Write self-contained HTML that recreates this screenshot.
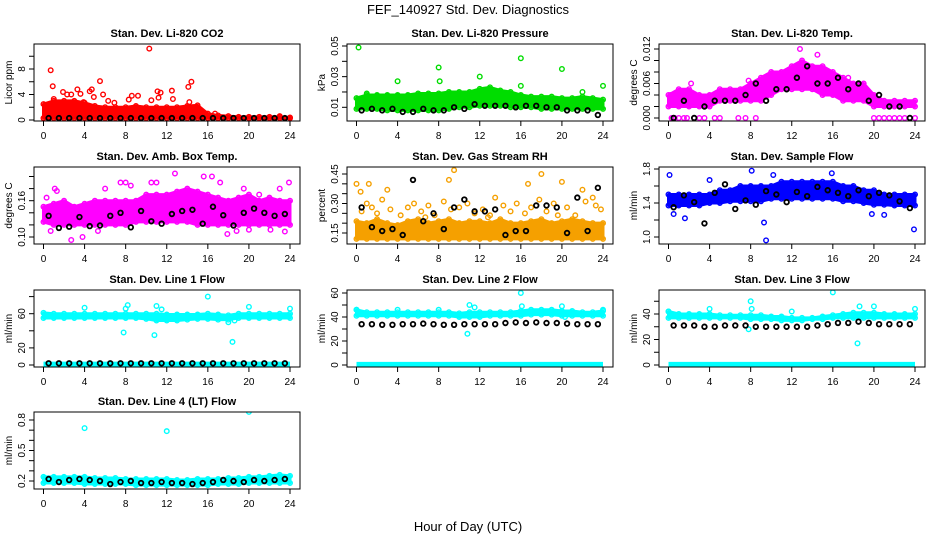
<!DOCTYPE html>
<html><head><meta charset="utf-8"><style>
html,body{margin:0;padding:0;background:#fff;}
svg{display:block;font-family:"Liberation Sans",sans-serif;}
</style></head><body>
<svg id="chart" width="936" height="540" viewBox="0 0 936 540">
<rect width="936" height="540" fill="#fff"/>
<text x="468" y="14" font-size="13" text-anchor="middle">FEF_140927  Std. Dev. Diagnostics</text>
<text x="468" y="531" font-size="13" text-anchor="middle">Hour of Day (UTC)</text>
</svg>
<script>
const hours = [0,1,2,3,4,5,6,7,8,9,10,11,12,13,14,15,16,17,18,19,20,21,22,23,24];
const blackHours = [0.5,1.5,2.5,3.5,4.5,5.5,6.5,7.5,8.5,9.5,10.5,11.5,12.5,13.5,14.5,15.5,16.5,17.5,18.5,19.5,20.5,21.5,22.5,23.5];
const xTicks = [0,4,8,12,16,20,24];

// P1 CO2
const co2Hi = [2.5,3,3,3,2.7,2.2,2,2,2,2.2,2,2,2,2,2.2,2.3,1,0.7,0.6,0.5,0.5,0.5,0.5,0.5,0.4];
const co2Lo = [0.3,0.3,0.3,0.3,0.3,0.3,0.3,0.3,0.3,0.3,0.3,0.3,0.3,0.3,0.3,0.3,0.3,0.3,0.3,0.3,0.3,0.3,0.3,0.3,0.3];
const co2OutX = [0.7,0.9,1,1.9,2.3,2.7,3.3,3.6,3.9,4.5,4.7,4.9,5.5,5.8,6.3,6.9,8.3,8.6,9.2,10.3,10.5,11.1,11.2,11.4,12.5,12.6,14.1,14.4,14.2,16.7,23];
const co2OutY = [7.8,5.3,3.3,4.4,4,4,4.8,4.1,2.8,4.5,4.8,3.6,6.1,4,3,2.7,3.2,3.8,3.8,11.2,3.1,4.5,3.5,4.3,4.6,3.3,5.2,6,2.8,1,0.6];
const co2Black = [0.3,0.3,0.3,0.3,0.3,0.3,0.3,0.3,0.3,0.3,0.3,0.3,0.3,0.3,0.3,0.3,0.3,0.3,0.3,0.3,0.3,0.3,0.3,0.3];

// P2 Pressure
const presHi = [0.016,0.018,0.018,0.018,0.018,0.018,0.019,0.019,0.019,0.02,0.02,0.02,0.022,0.023,0.021,0.02,0.018,0.017,0.017,0.017,0.016,0.016,0.017,0.016,0.015];
const presLo = [0.009,0.009,0.009,0.008,0.008,0.008,0.008,0.008,0.008,0.009,0.01,0.01,0.011,0.011,0.011,0.01,0.01,0.01,0.009,0.009,0.009,0.009,0.009,0.009,0.009];
const presOutX = [0.2,1,4,8,8.1,12,16,16,20,22,24];
const presOutY = [0.049,0.019,0.027,0.036,0.027,0.030,0.042,0.024,0.035,0.020,0.024];
const presBlack = [0.008,0.009,0.008,0.009,0.007,0.007,0.009,0.008,0.008,0.01,0.009,0.012,0.011,0.011,0.011,0.01,0.011,0.011,0.01,0.01,0.008,0.008,0.008,0.005];

// P3 Li-820 Temp
const tempHi = [0.004,0.005,0.005,0.004,0.004,0.005,0.005,0.005,0.006,0.007,0.008,0.008,0.009,0.010,0.009,0.009,0.008,0.007,0.006,0.006,0.004,0.003,0.003,0.003,0.003];
const tempLo = [0.002,0.002,0.002,0.002,0.002,0.003,0.003,0.003,0.003,0.003,0.004,0.005,0.005,0.005,0.005,0.004,0.004,0.003,0.003,0.003,0.002,0.002,0.002,0.002,0.002];
const tempOutX = [0.2,2.2,7.8,12.8,14.5,17.5,0.3,0.6,1,1.5,1.8,2.5,3,3.5,4.5,5,6.8,7.5,8.5,20,20.5,21,21.5,22,22.5,23,23.5,24];
const tempOutY = [0.004,0.006,0.0065,0.012,0.011,0.007,0,0,0,0,0,0,0,0,0,0,0,0,0,0,0,0,0,0,0,0,0,0];
const tempBlack = [0,0.003,0,0.002,0.003,0.003,0.003,0.004,0.006,0.003,0.005,0.005,0.007,0.009,0.006,0.006,0.007,0.005,0.006,0.003,0.004,0.002,0.002,0];

// P4 Amb box temp
const ambHi = [0.15,0.155,0.16,0.15,0.155,0.16,0.16,0.16,0.16,0.16,0.17,0.17,0.17,0.175,0.18,0.175,0.17,0.165,0.16,0.165,0.17,0.16,0.165,0.16,0.16];
const ambLo = [0.125,0.12,0.12,0.12,0.12,0.12,0.12,0.12,0.12,0.125,0.125,0.125,0.125,0.125,0.125,0.12,0.12,0.12,0.12,0.12,0.12,0.12,0.12,0.12,0.12];
const ambOutX = [0.3,1.1,1.3,2.7,6,7.5,8,8.5,10.5,11,12.8,15.6,16.4,17.2,19.5,21,23,23.9,0.7,3.8,5.3,17.9,18.8,20,22.1,23.5];
const ambOutY = [0.165,0.18,0.176,0.095,0.18,0.19,0.19,0.185,0.19,0.19,0.205,0.2,0.2,0.19,0.18,0.17,0.18,0.19,0.11,0.1,0.11,0.105,0.11,0.112,0.112,0.109];
const ambBlack = [0.135,0.115,0.117,0.133,0.118,0.119,0.135,0.14,0.116,0.143,0.126,0.122,0.138,0.143,0.145,0.122,0.15,0.136,0.119,0.14,0.147,0.14,0.135,0.138];

// P5 Gas stream RH
const rhHi = [0.21,0.2,0.22,0.2,0.19,0.21,0.22,0.2,0.21,0.22,0.2,0.21,0.21,0.2,0.22,0.2,0.2,0.21,0.22,0.2,0.21,0.22,0.21,0.2,0.2];
const rhLo = [0.12,0.12,0.12,0.12,0.12,0.12,0.12,0.12,0.12,0.12,0.12,0.12,0.12,0.12,0.12,0.12,0.12,0.12,0.12,0.12,0.12,0.12,0.12,0.12,0.12];
const rhOutX = [0,0.4,1.2,3,9,9.5,16.7,18,20,22,23,0.5,1,1.5,2,2.5,3.3,4.3,5,5.6,6.3,7,7.6,8.5,9.2,10,10.8,11.5,12.3,13,13.5,14.3,15,15.6,16.4,17,17.8,18.5,19.2,20.5,21.3,22.3,23.3,23.8,6.7,12.8,19.6];
const rhOutY = [0.40,0.36,0.4,0.37,0.42,0.47,0.40,0.45,0.41,0.37,0.33,0.26,0.3,0.28,0.25,0.32,0.27,0.24,0.28,0.3,0.26,0.29,0.24,0.31,0.27,0.28,0.3,0.25,0.27,0.24,0.33,0.29,0.26,0.3,0.25,0.28,0.32,0.26,0.3,0.28,0.24,0.31,0.29,0.27,0.23,0.23,0.24];
const rhBlack = [0.28,0.18,0.16,0.17,0.14,0.42,0.21,0.25,0.17,0.28,0.32,0.26,0.26,0.27,0.14,0.16,0.16,0.29,0.29,0.28,0.15,0.33,0.16,0.38];

// P6 Sample flow
const flowHi = [1.5,1.5,1.5,1.5,1.5,1.55,1.55,1.6,1.6,1.6,1.6,1.65,1.65,1.65,1.65,1.65,1.65,1.6,1.6,1.55,1.55,1.5,1.5,1.5,1.5];
const flowLo = [1.37,1.37,1.37,1.37,1.4,1.4,1.42,1.42,1.42,1.42,1.45,1.45,1.45,1.45,1.45,1.45,1.45,1.42,1.42,1.4,1.38,1.38,1.37,1.37,1.37];
const flowOutX = [0.1,0.5,1.6,9.3,9.5,8.1,15.9,23.9,19.8,21,4,10.2];
const flowOutY = [1.73,1.27,1.22,1.17,0.96,1.78,1.75,1.09,1.27,1.26,1.67,1.73];
const flowBlack = [1.35,1.49,1.41,1.16,1.52,1.62,1.33,1.43,1.38,1.54,1.50,1.41,1.53,1.48,1.59,1.55,1.52,1.48,1.55,1.48,1.52,1.49,1.42,1.34];

// P7 Line 1
const l1Hi = [61,60,60,60,60,60,60,60,60,60,60,60,59,59,59,59,60,59,58,60,60,60,60,60,60];
const l1Lo = [55,55,55,55,55,55,55,55,55,55,54,52,52,52,53,54,54,53,53,55,55,55,55,55,55];
const l1OutX = [4,7.8,8,8.2,10.8,11,11.5,16,18.4,20,24,18,18.6];
const l1OutY = [67,38,66,70,35,69,65,80,27,68,66,50,52];
const l1Black = [2,2,2,2,2,2,2,2,2,2,2,2,2,2,2,2,2,2,2,2,2,2,2,2];
const l1Zero = [1,1,1,1,1,1,1,1,1,1,1,1,1,1,1,1,1,1,1,1,1,1,1,1,1];

// P8 Line 2
const l2Hi = [46,44,44,44,44,44,44,44,44,44,43,44,44,44,44,44,45,46,46,46,45,45,44,44,45];
const l2Lo = [41,41,41,41,41,41,41,41,41,41,40,40,40,41,41,41,41,42,42,42,41,41,41,41,41];
const l2OutX = [0,4,8,10.8,11,11.5,16,16.1,20,20.3,24];
const l2OutY = [46,46,46,26,50,48,60,49,49,40,46];
const l2Black = [34,34,33.5,33.5,34,34,34.5,34,33.5,33.5,34,34,34,34,35,35.5,35,35.5,35,35,34.5,34,34,34];
const l2Zero = [0.5,0.5,0.5,0.5,0.5,0.5,0.5,0.5,0.5,0.5,0.5,0.5,0.5,0.5,0.5,0.5,0.5,0.5,0.5,0.5,0.5,0.5,0.5,0.5,0.5];

// P9 Line 3
const l3Hi = [42,40,40,40,40,39,39,39,39,39,38,38,37,37,37,38,39,40,41,41,41,40,40,40,40];
const l3Lo = [37,37,37,37,37,37,37,37,36,36,36,35,35,35,36,36,37,37,37,37,37,37,37,37,37];
const l3OutX = [0,4,7.8,8,8.1,12,16,18.4,18.6,20,24];
const l3OutY = [42,44,28,50,44,42,57,17,46,46,44];
const l3Black = [31,31,31,30,30,31,31,31,30,30,30,30,30,30,31,32,33,33,34,33,32,32,32,32];
const l3Zero = [0.5,0.5,0.5,0.5,0.5,0.5,0.5,0.5,0.5,0.5,0.5,0.5,0.5,0.5,0.5,0.5,0.5,0.5,0.5,0.5,0.5,0.5,0.5,0.5,0.5];

// P10 Line 4
const l4Hi = [0.24,0.24,0.24,0.24,0.24,0.23,0.23,0.23,0.22,0.22,0.22,0.22,0.22,0.21,0.21,0.22,0.22,0.22,0.23,0.23,0.24,0.24,0.25,0.26,0.25];
const l4Lo = [0.18,0.18,0.18,0.18,0.17,0.17,0.17,0.17,0.17,0.16,0.16,0.16,0.16,0.16,0.16,0.16,0.16,0.17,0.17,0.17,0.18,0.18,0.18,0.18,0.18];
const l4OutX = [4,12,20];
const l4OutY = [0.72,0.69,0.88];
const l4Black = [0.22,0.19,0.21,0.22,0.21,0.20,0.17,0.19,0.2,0.18,0.18,0.19,0.18,0.18,0.17,0.18,0.19,0.21,0.20,0.19,0.21,0.20,0.21,0.22];

const NS = 'http://www.w3.org/2000/svg';
const svg = document.getElementById('chart');
function mk(tag, attrs, parent) {
  const e = document.createElementNS(NS, tag);
  for (const k in attrs) e.setAttribute(k, attrs[k]);
  (parent || svg).appendChild(e);
  return e;
}
const colLeft = [34, 347, 659];
const rowTop = [44, 167, 290, 412];
const BW = 266, BH = 77;

const panels = [
  {key:'co2', title:'Stan. Dev. Li-820 CO2', ylab:'Licor ppm', col:0,row:0, v0:0,p0:120,v1:8,p1:69, ticks:[0,2,4,6,8,10], labels:[0,4,8], fmt:0, color:'#ff0000', hi:co2Hi, lo:co2Lo, ox:co2OutX, oy:co2OutY, black:co2Black},
  {key:'pressure', title:'Stan. Dev. Li-820 Pressure', ylab:'kPa', col:1,row:0, v0:0.01,p0:107.3,v1:0.05,p1:46, ticks:[0.01,0.02,0.03,0.04,0.05], labels:[0.01,0.03,0.05], fmt:2, color:'#00dd00', hi:presHi, lo:presLo, ox:presOutX, oy:presOutY, black:presBlack},
  {key:'li820-temp', title:'Stan. Dev. Li-820 Temp.', ylab:'degrees C', col:2,row:0, v0:0,p0:118,v1:0.012,p1:49, ticks:[0,0.002,0.004,0.006,0.008,0.01,0.012], labels:[0,0.006,0.012], fmt:3, color:'#ff00ff', hi:tempHi, lo:tempLo, ox:tempOutX, oy:tempOutY, black:tempBlack},
  {key:'amb-temp', title:'Stan. Dev. Amb. Box Temp.', ylab:'degrees C', col:0,row:1, v0:0.10,p0:237,v1:0.16,p1:200.7, ticks:[0.10,0.12,0.14,0.16,0.18,0.20], labels:[0.10,0.16], fmt:2, color:'#ff00ff', hi:ambHi, lo:ambLo, ox:ambOutX, oy:ambOutY, black:ambBlack},
  {key:'rh', title:'Stan. Dev. Gas Stream RH', ylab:'percent', col:1,row:1, v0:0.15,p0:233,v1:0.45,p1:174, ticks:[0.15,0.2,0.25,0.3,0.35,0.4,0.45], labels:[0.15,0.30,0.45], fmt:2, color:'#f5a000', hi:rhHi, lo:rhLo, ox:rhOutX, oy:rhOutY, black:rhBlack},
  {key:'sample-flow', title:'Stan. Dev. Sample Flow', ylab:'ml/min', col:2,row:1, v0:1.0,p0:237,v1:1.8,p1:169, ticks:[1.0,1.2,1.4,1.6,1.8], labels:[1.0,1.4,1.8], fmt:1, color:'#0000ff', hi:flowHi, lo:flowLo, ox:flowOutX, oy:flowOutY, black:flowBlack},
  {key:'line1', title:'Stan. Dev. Line 1 Flow', ylab:'ml/min', col:0,row:2, v0:0,p0:365,v1:60,p1:313.7, ticks:[0,20,40,60,80], labels:[0,20,60], fmt:0, color:'#00ffff', hi:l1Hi, lo:l1Lo, ox:l1OutX, oy:l1OutY, black:l1Black, zero:l1Zero},
  {key:'line2', title:'Stan. Dev. Line 2 Flow', ylab:'ml/min', col:1,row:2, v0:0,p0:365,v1:60,p1:293, ticks:[0,10,20,30,40,50,60], labels:[0,20,40,60], fmt:0, color:'#00ffff', hi:l2Hi, lo:l2Lo, ox:l2OutX, oy:l2OutY, black:l2Black, zero:l2Zero},
  {key:'line3', title:'Stan. Dev. Line 3 Flow', ylab:'ml/min', col:2,row:2, v0:0,p0:365,v1:40,p1:314, ticks:[0,10,20,30,40,50], labels:[0,20,40], fmt:0, color:'#00ffff', hi:l3Hi, lo:l3Lo, ox:l3OutX, oy:l3OutY, black:l3Black, zero:l3Zero},
  {key:'line4', title:'Stan. Dev. Line 4 (LT) Flow', ylab:'ml/min', col:0,row:3, v0:0.2,p0:481,v1:0.8,p1:420, ticks:[0.2,0.3,0.4,0.5,0.6,0.7,0.8], labels:[0.2,0.5,0.8], fmt:1, color:'#00ffff', hi:l4Hi, lo:l4Lo, ox:l4OutX, oy:l4OutY, black:l4Black}
];

panels.forEach(p => {
  const L = colLeft[p.col], T = rowTop[p.row];
  const g = mk('g', {});
  
  
  const xs = h => L + 9.5 + h * (246.5 / 24);
  const ys = v => p.p0 + (v - p.v0) * (p.p1 - p.p0) / (p.v1 - p.v0);
  const clip = mk('clipPath', {id: 'clip-' + p.key}, g);
  mk('rect', {x: L, y: T, width: BW, height: BH}, clip);
  const plot = mk('g', {'clip-path': 'url(#clip-' + p.key + ')'}, g);
  
  
  let pts = hours.map((h, i) => xs(h) + ',' + ys(p.hi[i]));
  pts = pts.concat(hours.slice().reverse().map((h, j) => xs(h) + ',' + ys(p.lo[hours.length - 1 - j])));
  const band = mk('polygon', {points: pts.join(' '), fill: p.color, stroke: p.color, 'stroke-width': 3, 'stroke-linejoin': 'round'}, plot);
  
  
  hours.forEach((h, i) => {
    [p.hi[i], p.lo[i]].forEach(v => {
      const c = mk('circle', {cx: xs(h), cy: ys(v), r: 2.3, fill: 'none', stroke: p.color, 'stroke-width': 1.4}, plot);
      
      
    });
  });
  if (p.zero) {
    const zr = mk('polygon', {points: xs(0)+','+ys(p.zero[0])+' '+xs(24)+','+ys(p.zero[24]), fill:'none', stroke:p.color, 'stroke-width': 5}, plot);
    
    
  }
  p.ox.forEach((x, i) => {
    const c = mk('circle', {cx: xs(x), cy: ys(p.oy[i]), r: 2.3, fill: 'none', stroke: p.color, 'stroke-width': 1.4}, plot);
    
    
  });
  blackHours.forEach((x, i) => {
    const c = mk('circle', {cx: xs(x), cy: ys(p.black[i]), r: 2.3, fill: 'none', stroke: '#000', 'stroke-width': 1.8}, plot);
    
    
  });
  const box = mk('rect', {x: L, y: T, width: BW, height: BH, fill: 'none', stroke: '#000', 'stroke-width': 1}, g);
  
  
  const t = mk('text', {x: L + BW / 2, y: T - 7, 'font-size': 11, 'font-weight': 'bold', 'text-anchor': 'middle'}, g);
  t.textContent = p.title;
  
  
  const B = T + BH;
  mk('line', {x1: xs(0), x2: xs(24), y1: B, y2: B, stroke: '#000'}, g);
  xTicks.forEach(h => {
    mk('line', {x1: xs(h), x2: xs(h), y1: B, y2: B + 5, stroke: '#000'}, g);
    const lb = mk('text', {x: xs(h), y: B + 18, 'font-size': 10, 'text-anchor': 'middle'}, g);
    lb.textContent = h;
    
    
  });
  p.ticks.forEach(v => {
    const y = ys(v);
    if (y < T - 1 || y > B + 1) return;
    mk('line', {x1: L - 5, x2: L, y1: y, y2: y, stroke: '#000'}, g);
  });
  p.labels.forEach(v => {
    const y = ys(v);
    const lb = mk('text', {x: 0, y: 0, 'font-size': 10, 'text-anchor': 'middle', transform: 'translate(' + (L - 9) + ',' + y + ') rotate(-90)'}, g);
    lb.textContent = v.toFixed(p.fmt);
    
    
  });
  const yl = mk('text', {x: 0, y: 0, 'font-size': 10, 'text-anchor': 'middle', transform: 'translate(' + (L - 22) + ',' + (T + BH / 2) + ') rotate(-90)'}, g);
  yl.textContent = p.ylab;
  
  
});
</script>
</body></html>
